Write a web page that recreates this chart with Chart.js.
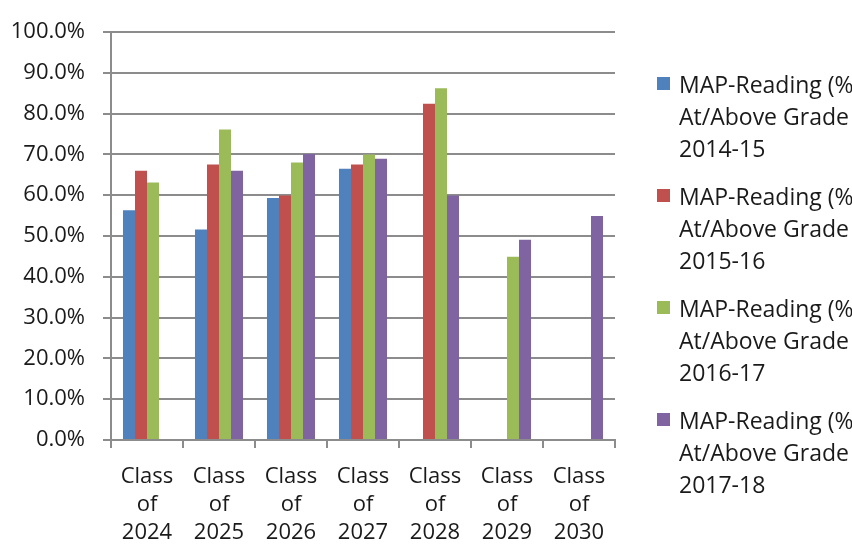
<!DOCTYPE html>
<html>
<head>
<meta charset="utf-8">
<title>MAP-Reading by class</title>
<script src="https://cdn.jsdelivr.net/npm/chart.js@4"></script>
<style>
  html, body { margin: 0; padding: 0; background: #fff; overflow: hidden; }
  #wrap { position: relative; width: 852px; height: 551px; overflow: hidden; }
  #legend {
    position: absolute; left: 657px; top: 68px;
    font: 23px "Open Sans", sans-serif; color: #1a1a1a;
    white-space: nowrap;
  }
  .item { position: relative; height: 96px; margin-bottom: 16px; }
  .swatch { position: absolute; left: 0; top: 9px; width: 13px; height: 13px; }
  .lines { position: absolute; left: 22px; top: 0; line-height: 32px; }
</style>
</head>
<body>
<div id="wrap">
  <canvas id="chart" width="852" height="551"></canvas>
  <div id="legend"></div>
</div>
<script>
const classes = [
  ["Class", "of", "2024"],
  ["Class", "of", "2025"],
  ["Class", "of", "2026"],
  ["Class", "of", "2027"],
  ["Class", "of", "2028"],
  ["Class", "of", "2029"],
  ["Class", "of", "2030"],
];

// legend text, one array per series, already broken into lines
const seriesLines = [
  ["MAP-Reading (%", "At/Above Grade Level)", "2014-15"],
  ["MAP-Reading (%", "At/Above Grade Level)", "2015-16"],
  ["MAP-Reading (%", "At/Above Grade Level)", "2016-17"],
  ["MAP-Reading (%", "At/Above Grade Level)", "2017-18"],
];

const colors = ["#4f81bd", "#c0504d", "#9bbb59", "#8064a2"];

// percent at/above grade level, per class
const reading1415 = [56.3, 51.6, 59.3, 66.5, null, null, null];
const reading1516 = [66.0, 67.5, 59.9, 67.5, 82.4, null, null];
const reading1617 = [63.1, 76.1, 68.0, 70.0, 86.2, 44.9, null];
const reading1718 = [null, 66.0, 70.1, 68.9, 59.9, 49.1, 54.9];

const seriesValues = [reading1415, reading1516, reading1617, reading1718];

const axisGray = "#8c8c8c";
const textColor = "#1a1a1a";
const axisFont = { family: "'Open Sans', sans-serif", size: 22, lineHeight: 1.27 };

const chart = new Chart(document.getElementById("chart").getContext("2d"), {
  type: "bar",
  data: {
    labels: classes,
    datasets: seriesValues.map((values, i) => ({
      label: seriesLines[i].join(" "),
      data: values,
      backgroundColor: colors[i],
      borderWidth: 0,
      categoryPercentage: 0.667,
      barPercentage: 1.0,
    })),
  },
  options: {
    responsive: false,
    animation: false,
    layout: {
      padding: { left: 0, top: 24, right: 237, bottom: 0 },
    },
    scales: {
      x: {
        grid: {
          display: true,
          drawOnChartArea: false,
          drawTicks: true,
          tickLength: 8,
          offset: true,
          color: axisGray,
          lineWidth: 2,
        },
        border: { color: axisGray, width: 2 },
        ticks: {
          color: textColor,
          font: axisFont,
          padding: 15,
          maxRotation: 0,
          autoSkip: false,
        },
        afterFit: (scale) => {
          scale.height = 111;
        },
      },
      y: {
        min: 0,
        max: 100,
        grid: {
          color: axisGray,
          lineWidth: 2,
          tickLength: 8,
        },
        border: { color: axisGray, width: 2 },
        ticks: {
          stepSize: 10,
          color: textColor,
          font: axisFont,
          padding: 18,
          callback: (value) => value.toFixed(1) + "%",
        },
        afterFit: (scale) => {
          scale.width = 111;
        },
      },
    },
    plugins: {
      legend: { display: false },
      tooltip: { enabled: false },
    },
  },
});

// legend drawn beside the plot, built from the datasets
const legendEl = document.getElementById("legend");
chart.data.datasets.forEach((ds, i) => {
  const item = document.createElement("div");
  item.className = "item";
  const swatch = document.createElement("div");
  swatch.className = "swatch";
  swatch.style.background = ds.backgroundColor;
  const lines = document.createElement("div");
  lines.className = "lines";
  seriesLines[i].forEach((line) => {
    const row = document.createElement("div");
    row.textContent = line;
    lines.appendChild(row);
  });
  item.appendChild(swatch);
  item.appendChild(lines);
  legendEl.appendChild(item);
});
</script>
</body>
</html>
